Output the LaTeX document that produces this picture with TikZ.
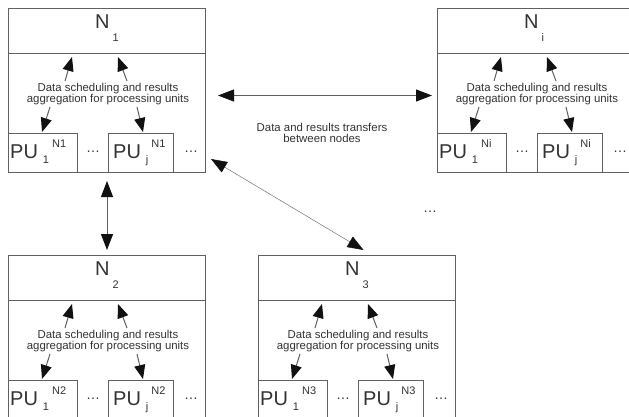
\documentclass[tikz,border=0pt]{standalone}
\usepackage{fontspec}
\setmainfont{Liberation Sans}
\usetikzlibrary{arrows.meta, positioning, calc}
\definecolor{LineGray}{HTML}{606060}
\definecolor{TextGray}{HTML}{333333}
\definecolor{TipBlack}{HTML}{111111}
\newcommand{\subfont}{\fontsize{11}{11}\selectfont}
\newcommand{\pulabel}[2]{PU\hspace{5pt}\raisebox{-5pt}{\subfont #1}\hspace{3pt}\raisebox{11pt}{\subfont #2}}
\tikzset{
    % Box styles
    nodebox/.style={
        rectangle,
        draw=LineGray,
        line width=1pt,
        minimum width=197pt,
        minimum height=164pt,
        inner sep=0pt,
        anchor=north west
    },
    pubox/.style={
        rectangle,
        draw=LineGray,
        line width=1pt,
        minimum height=39pt,
        inner sep=0pt,
        anchor=north west
    },
    % Text styles
    bigtext/.style={
        font=\fontsize{20}{20}\selectfont,
        text=TextGray,
        anchor=base west,
        inner sep=0pt
    },
    note/.style={
        font=\fontsize{11.4}{11}\selectfont,
        text=TextGray,
        align=center,
        inner sep=0pt
    },
    dots/.style={
        font=\fontsize{14}{14}\selectfont,
        text=TextGray,
        inner sep=0pt
    },
    % Arrow styles
    arrow/.style={
        -{Triangle[length=14pt, width=11pt, color=TipBlack]},
        line width=1pt,
        draw=LineGray
    },
    dblarrow/.style={
        {Triangle[length=16pt, width=12pt, color=TipBlack]}-{Triangle[length=16pt, width=12pt, color=TipBlack]},
        line width=1pt,
        draw=LineGray
    }
}

\begin{document}
\begin{tikzpicture}[x=1pt, y=-1pt]
    \path[use as bounding box, fill=white] (0,0) rectangle (629,416);

    % Computing nodes with their processing units
    \foreach \nx/\ny/\id in {8/8/1, 437/8/i, 8/255/2, 258/255/3} {
        \node[nodebox] (box\id) at (\nx,\ny) {};
        \draw[LineGray, line width=1pt] ([yshift=-45pt]box\id.north west) -- ([yshift=-45pt]box\id.north east);
        \node[bigtext] (title\id) at (\nx+87,\ny+20) {N\hspace{3pt}\raisebox{-13pt}{\subfont\id}};

        \node[note] (sched\id) at (\nx+100,\ny+86.5) {Data scheduling and results\\aggregation for processing units};

        \node[pubox, minimum width=69pt] (pua\id) at (\nx,\ny+125) {};
        \node[pubox, minimum width=65pt] (puj\id) at (\nx+100,\ny+125) {};
        \node[bigtext] (pualabel\id) at (\nx+2,\ny+150) {\pulabel{1}{N\id}};
        \node[bigtext] (pujlabel\id) at (\nx+105,\ny+150) {\pulabel{j}{N\id}};
        \node[dots] (dota\id) at (\nx+85,\ny+144) {…};
        \node[dots] (dotb\id) at (\nx+183,\ny+144) {…};

        % Scheduling and aggregation arrows
        \coordinate (upa\id) at (\nx+57,\ny+73);
        \coordinate (upatip\id) at (\nx+64,\ny+49);
        \coordinate (upb\id) at (\nx+119,\ny+73);
        \coordinate (upbtip\id) at (\nx+110,\ny+49);
        \coordinate (dna\id) at (\nx+42,\ny+99);
        \coordinate (dnatip\id) at (\nx+34,\ny+124);
        \coordinate (dnb\id) at (\nx+129,\ny+99);
        \coordinate (dnbtip\id) at (\nx+135,\ny+124);
        \draw[arrow] (upa\id) -- (upatip\id);
        \draw[arrow] (upb\id) -- (upbtip\id);
        \draw[arrow] (dna\id) -- (dnatip\id);
        \draw[arrow] (dnb\id) -- (dnbtip\id);
    }

    % Transfers between nodes
    \draw[dblarrow] ([shift={(12pt,-5pt)}]box1.east) -- ([shift={(-5pt,-5pt)}]boxi.west);
    \node[note] (transfer) at (322,132.5) {Data and results transfers\\between nodes};
    \draw[dblarrow] ([yshift=-8pt]box1.south) -- ([yshift=5pt]box2.north);
    \draw[dblarrow, line width=0.5pt, draw=black!55] ([shift={(5pt,14pt)}]box1.south east) -- ([shift={(6.5pt,5pt)}]box3.north);
    \node[dots] (more) at (430,212) {…};
\end{tikzpicture}
\end{document}
